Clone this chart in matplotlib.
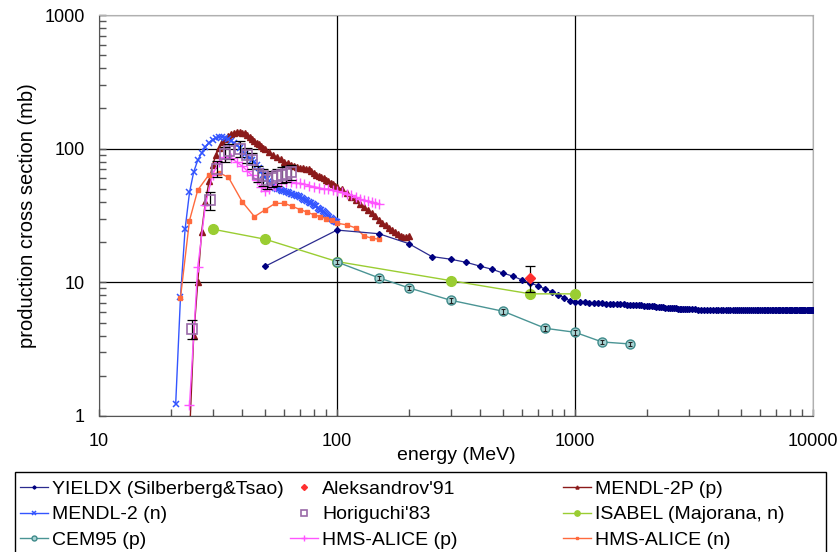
import numpy as np
import matplotlib
matplotlib.use("Agg")
import matplotlib.pyplot as plt
from matplotlib.ticker import FixedLocator, NullFormatter, LogLocator
from matplotlib.patches import Rectangle

plt.rcParams['font.family'] = ['Liberation Sans', 'DejaVu Sans']

# ---------------------------------------------------------------------------
# data: production cross sections (mb) vs incident energy (MeV)
# ---------------------------------------------------------------------------
yieldx_e = np.concatenate([[50, 100], np.arange(150, 3001, 50), np.arange(3100, 10001, 100)])
yieldx_s = [13.2, 24.6,
            23.1, 19.5, 15.6, 14.9, 14.1, 13.2, 12.5, 11.7, 11.1, 10.4,
            9.9, 9.4, 8.9, 8.5, 8.1, 7.7, 7.3, 7.16,
            7.12, 7.08, 7.05, 7.02, 6.99, 6.96, 6.94, 6.92, 6.90, 6.88,
            6.86, 6.84, 6.82, 6.80, 6.78, 6.76, 6.73, 6.71, 6.69, 6.67,
            6.65, 6.62, 6.60, 6.58, 6.55, 6.53, 6.51, 6.48, 6.46, 6.44,
            6.42, 6.40, 6.38, 6.36, 6.34, 6.32, 6.31, 6.30, 6.29, 6.28,
            6.27, 6.27, 6.26, 6.26, 6.26, 6.25, 6.25, 6.25, 6.25, 6.24,
            6.24, 6.24, 6.24, 6.24, 6.23, 6.23, 6.23, 6.23, 6.23, 6.23,
            6.23, 6.23, 6.22, 6.22, 6.22, 6.22, 6.22, 6.22, 6.22, 6.22,
            6.22, 6.22, 6.22, 6.22, 6.22, 6.22, 6.22, 6.22, 6.22, 6.22,
            6.22, 6.22, 6.22, 6.22, 6.22, 6.22, 6.22, 6.22, 6.22, 6.22,
            6.22, 6.22, 6.22, 6.22, 6.22, 6.22, 6.22, 6.22, 6.22, 6.22,
            6.22, 6.22, 6.22, 6.22, 6.22, 6.22, 6.22, 6.22, 6.22, 6.22]

aleks_e = [650]
aleks_s = [10.8]
aleks_err = [2.4]

mendl2p_e = list(range(24, 51)) + list(range(52, 101, 2)) + list(range(105, 201, 5))
mendl2p_s = [0.7, 4.0, 10, 24, 40, 57, 75, 90, 102, 112, 119, 124, 128, 131,
             133, 133, 132, 130, 127, 123, 119, 115, 111, 108, 105, 102, 99,
             94, 89, 86, 83, 80, 78, 76, 74, 73, 72, 71.5, 71, 70, 68, 66,
             64, 62, 61, 60, 58.5, 57, 55.5, 54, 53, 52,
             49.5, 46.5, 43.8, 41, 38.5, 36.5, 34.5, 33, 31.5, 29.5, 28,
             26.8, 25.6, 24.6, 23.6, 22.8, 22.2, 21.9, 21.8, 22.2]

mendl2_e = list(range(21, 101))
mendl2_s = [1.23, 7.8, 25, 47, 67, 82, 93, 103, 111, 117, 121, 123, 123, 121,
            118, 114, 110, 106, 101, 96, 92, 88, 85, 82, 79, 76, 72, 68, 64,
            61, 59, 57, 55, 53, 51, 50, 49.5, 49, 48.5, 48, 47.5, 47, 46.5,
            46, 45.5, 45, 45, 44.5, 44, 43.5, 43, 42, 41.5, 41, 40.5, 40,
            39.5, 39, 38.5, 38, 37.5, 37, 36, 35.5, 35, 34.5, 34, 33.5, 33,
            32.5, 32, 31.5, 31, 30.5, 30, 29.5, 29, 28.8, 28.5, 28.2]

horig_e = [24.5, 29.4, 31.4, 33.8, 35.2, 39.1, 41.7, 43.8, 46.7, 49.0, 50.7,
           53.2, 55.8, 58.5, 61.3, 64.3]
horig_s = [4.5, 41, 71, 91, 96, 100, 90, 82, 65, 62, 58, 60, 62, 64, 65, 67]
horig_err = [0.7, 6, 10, 12, 13, 14, 12, 11, 9, 9, 8, 8, 9, 9, 9, 9]

isabel_e = [30, 50, 100, 300, 650, 1000]
isabel_s = [25, 21, 14.3, 10.3, 8.2, 8.2]

cem_e = [100, 150, 200, 300, 500, 750, 1000, 1300, 1700]
cem_s = [14.2, 10.8, 9.1, 7.35, 6.07, 4.53, 4.23, 3.58, 3.46]

hms_p_e = [24, 26, 28, 30, 32, 34, 36, 38, 40, 42, 44, 46, 48, 50, 52, 55,
           58, 61, 64, 67, 70, 73, 76, 80, 84, 88, 92, 96, 100, 105, 110,
           115, 120, 125, 130, 135, 140, 145, 150]
hms_p_s = [1.2, 13, 38, 64, 80, 86, 85, 79, 74, 68, 63, 58, 52, 48, 50, 53,
           55, 56, 56, 55, 55, 54, 53, 52, 51, 50, 50, 49, 48, 47, 46, 45,
           43.5, 42, 41, 40.5, 40, 39, 38.5]

hms_n_e = [22, 24, 26, 29, 32, 35, 40, 45, 50, 55, 60, 65, 70, 75, 80, 85,
           90, 95, 100, 110, 120, 130, 140, 150]
hms_n_s = [7.7, 29, 49, 64, 66, 61, 40, 31, 35, 39, 39, 37, 35, 33.5, 32,
           31, 30, 29.3, 27.7, 26.9, 25.5, 22.2, 21.4, 21]

# ---------------------------------------------------------------------------
# figure
# ---------------------------------------------------------------------------
fig = plt.figure(figsize=(8.39, 5.52), dpi=100)
ax = fig.add_axes([99 / 839, 1 - 416 / 552, 714 / 839, 401 / 552])
ax.set_xscale('log')
ax.set_yscale('log')

h_yieldx, = ax.plot(yieldx_e, yieldx_s, '-', color='#2b2b8f', lw=0.9, marker='D',
                    ms=3, mfc='#000080', mec='#000080', label='YIELDX (Silberberg&Tsao)', zorder=4)
ax.errorbar(aleks_e, aleks_s, yerr=aleks_err, fmt='none', ecolor='black', elinewidth=0.9,
            capsize=3.5, capthick=0.9, zorder=5)
h_aleks, = ax.plot(aleks_e, aleks_s, 'D', color='#ff3030', ms=5.5, ls='none',
                   label="Aleksandrov'91", zorder=6)
h_m2p, = ax.plot(mendl2p_e, mendl2p_s, '-', color='#8b1a1a', lw=1, marker='^', ms=4,
                 label='MENDL-2P (p)', zorder=3)
h_m2, = ax.plot(mendl2_e, mendl2_s, '-', color='#3355ff', lw=1, marker='x', ms=5, mew=1.1,
                label='MENDL-2 (n)', zorder=3)
ax.errorbar(horig_e, horig_s, yerr=horig_err, fmt='none', ecolor='black', elinewidth=0.9,
            capsize=3.5, capthick=0.9, zorder=5)
h_horig, = ax.plot(horig_e, horig_s, 's', ls='none', ms=7, mfc='none', mec='#9a6aa8',
                   mew=1.2, label="Horiguchi'83", zorder=5)
h_isabel, = ax.plot(isabel_e, isabel_s, '-', color='#9acd32', lw=1, marker='o', ms=7,
                    label='ISABEL (Majorana, n)', zorder=4)
h_cem, = ax.plot(cem_e, cem_s, '-', color='#4a9494', lw=1, marker='o', ms=6.5,
                 mfc='#a8d4d4', mec='#3f8a8a', mew=1, label='CEM95 (p)', zorder=4)
ax.errorbar(cem_e, cem_s, yerr=[0.04 * s for s in cem_s], fmt='none', ecolor='#222222',
            elinewidth=0.8, capsize=1.5, capthick=0.8, zorder=5)
h_hmsp, = ax.plot(hms_p_e, hms_p_s, '-', color='#ff55ff', lw=1, marker='+', ms=7, mew=1,
                  label='HMS-ALICE (p)', zorder=3)
h_hmsn, = ax.plot(hms_n_e, hms_n_s, '-', color='#ff6a3d', lw=1, marker='s', ms=2.8,
                  label='HMS-ALICE (n)', zorder=3)

ax.set_xlim(10, 10000)
ax.set_ylim(1, 1000)

ax.xaxis.set_major_locator(FixedLocator([10, 100, 1000, 10000]))
ax.set_xticklabels(['10', '100', '1000', '10000'])
ax.yaxis.set_major_locator(FixedLocator([1, 10, 100, 1000]))
ax.set_yticklabels(['1', '10', '100', '1000'])
ax.xaxis.set_minor_locator(LogLocator(base=10, subs=np.arange(2, 10)))
ax.yaxis.set_minor_locator(LogLocator(base=10, subs=np.arange(2, 10)))
ax.xaxis.set_minor_formatter(NullFormatter())
ax.yaxis.set_minor_formatter(NullFormatter())

ax.tick_params(axis='both', which='both', direction='in', colors='#555555', labelcolor='black',
               labelsize=13)
ax.tick_params(axis='both', which='major', length=5, width=1)
ax.tick_params(axis='both', which='minor', length=5, width=1)
ax.tick_params(axis='y', pad=10)
ax.tick_params(axis='x', pad=12)

ax.grid(True, which='major', color='black', lw=0.9)
ax.set_axisbelow(True)
for side in ['left', 'bottom']:
    ax.spines[side].set_color('#555555')
for side in ['top', 'right']:
    ax.spines[side].set_color('#b0b0b0')

ax.set_xlabel('energy (MeV)', fontsize=14, labelpad=-2)
ax.set_ylabel('production cross section (mb)', fontsize=14.5, labelpad=5.5)

# legend: three columns inside one frame below the plot
fig.patches.append(Rectangle((15 / 839, -0.05), 811 / 839, 0.05 + 1 - 472 / 552,
                             transform=fig.transFigure, fill=False, edgecolor='black',
                             lw=1, clip_on=False))
columns = [([h_yieldx, h_m2, h_cem], 20),
           ([h_aleks, h_horig, h_hmsp], 290),
           ([h_m2p, h_isabel, h_hmsn], 563)]
for handles, xpx in columns:
    fig.legend(handles=handles, loc='upper left', bbox_to_anchor=(xpx / 839, 1 - 480 / 552),
               frameon=False, fontsize=14, handlelength=1.45, handletextpad=0.2,
               borderpad=0, borderaxespad=0, labelspacing=0.42, numpoints=1,
               markerscale=0.55)

fig.savefig('out.png', dpi=100)
